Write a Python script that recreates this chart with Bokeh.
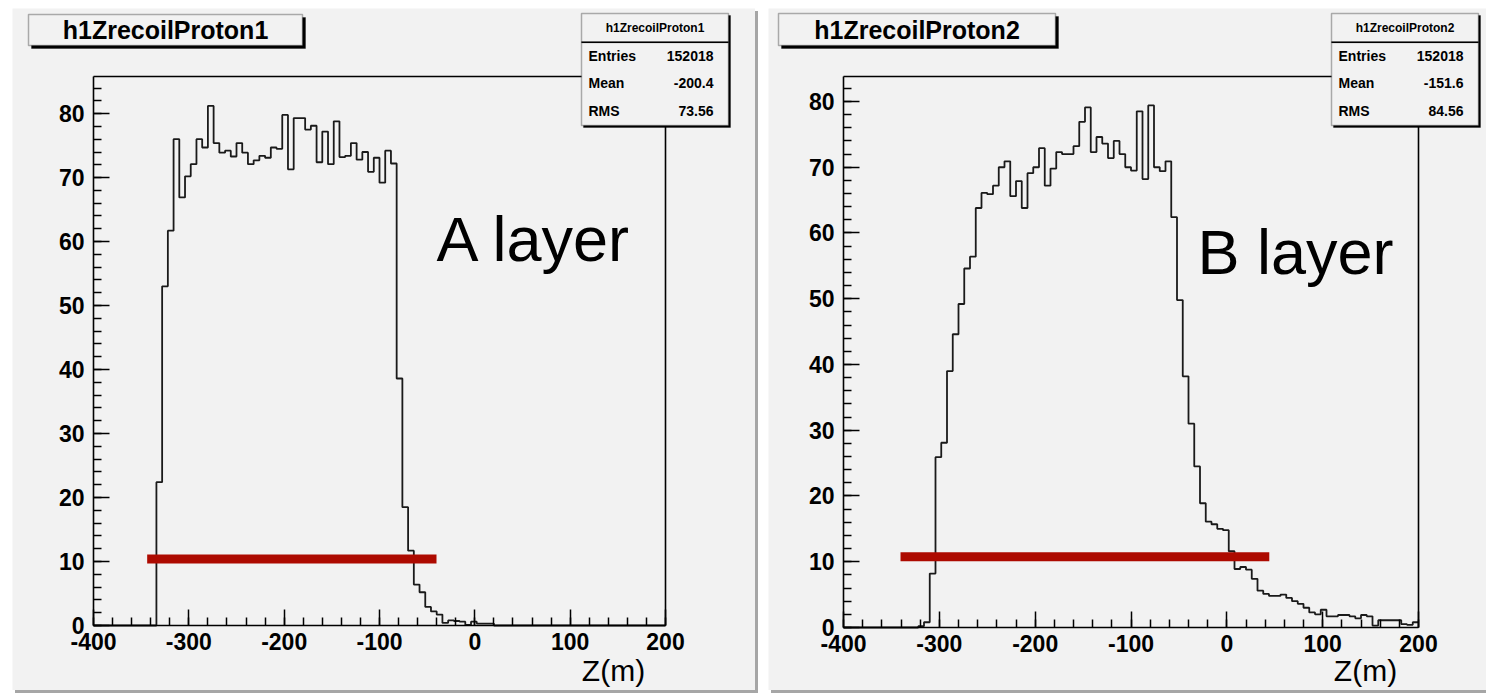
from bokeh.plotting import figure
from bokeh.models import FixedTicker, Label, BoxAnnotation, Range1d, LinearAxis
from bokeh.layouts import row
from bokeh.embed import file_html
from bokeh.resources import INLINE

# ---------------- data ----------------
BIN_WIDTH = 6
X_MIN, X_MAX = -400, 200
x_ticks = [-400, -300, -200, -100, 0, 100, 200]
x_tick_labels = ["-400", "-300", "-200", "-100", "0", "100", "200"]
y_ticks = [0, 10, 20, 30, 40, 50, 60, 70, 80]
x_title = "Z(m)"

left_name = "h1ZrecoilProton1"
left_first_bin = -334
left_counts = [22.4, 53.0, 61.7, 76.0, 66.9, 70.2, 72.1, 76.0, 74.7, 81.2,
               75.4, 73.9, 74.2, 73.3, 75.4, 73.9, 72.1, 72.7, 73.4, 73.1,
               74.7, 74.5, 79.8, 71.3, 79.3, 79.3, 77.5, 78.1, 72.4, 77.2,
               72.1, 78.8, 73.2, 73.4, 75.4, 72.8, 74.0, 70.9, 73.1, 69.2,
               74.2, 72.2, 38.6, 18.5, 11.7, 6.4, 5.2, 2.9, 2.2, 1.7,
               0.4, 0.8, 0.7, 0.6, 0.1, 0.6, 0.3, 0.3, 0.3]
left_ymax = 85.8
left_stat_names = ["Entries", "Mean", "RMS"]
left_stat_values = ["152018", "-200.4", "73.56"]
left_tag = "A layer"
left_red_x = [-343.7, -40.2]
left_red_y = [10.4, 10.4]

right_name = "h1ZrecoilProton2"
right_first_bin = -322
right_counts = [0.2, 0.8, 8.2, 25.9, 28.1, 39.0, 44.6, 49.2, 54.6, 56.4,
                63.8, 66.1, 65.9, 67.2, 70.0, 70.9, 65.6, 67.9, 63.8, 69.1,
                70.0, 72.9, 67.2, 69.8, 72.3, 72.0, 72.0, 73.2, 76.9, 79.1,
                72.3, 74.6, 73.6, 71.4, 74.0, 72.0, 70.0, 69.5, 78.5, 68.2,
                79.4, 70.0, 69.4, 70.9, 62.4, 49.8, 38.2, 31.0, 24.5, 18.9,
                16.1, 15.7, 15.0, 14.8, 11.6, 8.9, 9.2, 8.8, 7.4, 5.6,
                5.1, 4.8, 4.8, 5.0, 4.5, 4.0, 3.6, 3.0, 2.3, 2.0,
                2.7, 1.7, 1.7, 1.9, 1.9, 1.7, 1.4, 1.9, 1.7, 0.3,
                1.1, 1.1, 1.1, 1.1, 0.5, 0.4, 0.8]
right_ymax = 83.8
right_stat_names = ["Entries", "Mean", "RMS"]
right_stat_values = ["152018", "-151.6", "84.56"]
right_tag = "B layer"
right_red_x = [-340.5, 44.3]
right_red_y = [10.75, 10.75]

# ---------------- styling ----------------
BG = "#f2f2f2"
FONT = "Liberation Sans"
RED = "#ad0a00"


def full_hist(first_edge, counts):
    n = (X_MAX - X_MIN) // BIN_WIDTH
    vals = [0.0] * n
    i0 = (first_edge - X_MIN) // BIN_WIDTH
    for i, c in enumerate(counts):
        vals[i0 + i] = c
    edges = [X_MIN + BIN_WIDTH * i for i in range(n + 1)]
    return edges, vals + [vals[-1]]


def make_panel(g, ymax, name, first_edge, counts, stat_names, stat_values, tag, red_x, red_y):
    # g: window-pixel geometry of this panel; the histogram area spans
    # X_MIN..X_MAX and 0..ymax inside the pixel box (fx0, fy0, fw, fh)
    def dx(wx):
        return X_MIN + (wx - g["fx0"]) / g["fw"] * (X_MAX - X_MIN)

    def dy(wy):
        return ymax - (wy - g["fy0"]) / g["fh"] * ymax

    p = figure(width=g["w"], height=g["h"],
               x_range=Range1d(dx(g["px0"]), dx(g["px0"] + g["w"])),
               y_range=Range1d(dy(g["py0"] + g["h"]), dy(g["py0"])),
               output_backend="svg", toolbar_location=None,
               min_border=0)
    p.margin = (g["py0"], 0, 0, g["mleft"])
    p.styles = {"box-shadow": "3px 3px 0px #a6a6a6"}
    p.background_fill_color = BG
    p.border_fill_color = BG
    p.outline_line_color = None
    p.grid.visible = False

    xa = p.xaxis[0]
    xa.fixed_location = 0
    xa.bounds = (X_MIN, X_MAX)
    xa.ticker = FixedTicker(ticks=x_ticks, minor_ticks=list(range(X_MIN, X_MAX + 1, 20)))
    xa.major_label_overrides = {t: l for t, l in zip(x_ticks, x_tick_labels)}
    ya = p.yaxis[0]
    ya.fixed_location = X_MIN
    ya.bounds = (0, ymax)
    ya.ticker = FixedTicker(ticks=y_ticks, minor_ticks=[v for v in range(0, int(ymax) + 1, 2)])
    for ax in (xa, ya):
        ax.major_tick_in = 16
        ax.major_tick_out = 0
        ax.minor_tick_in = 8
        ax.minor_tick_out = 0
        ax.axis_line_color = "black"
        ax.axis_line_width = 1.6
        ax.major_tick_line_width = 1.5
        ax.minor_tick_line_width = 1.5
        ax.major_label_text_font = FONT
        ax.major_label_text_font_style = "bold"
        ax.major_label_text_font_size = "23px"
        ax.major_label_text_color = "black"
    xa.major_label_standoff = 7
    ya.major_label_standoff = 9

    # frame top / right edges
    top = LinearAxis(fixed_location=ymax, bounds=(X_MIN, X_MAX), ticker=FixedTicker(ticks=[]),
                     axis_line_width=1.6, major_tick_in=0, major_tick_out=0,
                     minor_tick_in=0, minor_tick_out=0, major_label_text_font_size="0px")
    right = LinearAxis(fixed_location=X_MAX, bounds=(0, ymax), ticker=FixedTicker(ticks=[]),
                       axis_line_width=1.6, major_tick_in=0, major_tick_out=0,
                       minor_tick_in=0, minor_tick_out=0, major_label_text_font_size="0px")
    p.add_layout(top, "above")
    p.add_layout(right, "right")

    xs, ys = full_hist(first_edge, counts)
    p.step(xs, ys, mode="after", line_color="#1a1a1a", line_width=1.8)
    p.segment(x0=[red_x[0]], y0=[red_y[0]], x1=[red_x[1]], y1=[red_y[1]],
              line_color=RED, line_width=9, line_cap="butt")

    # title box with shadow
    t = g["title_box"]
    p.add_layout(BoxAnnotation(left=dx(t[0] + 3), right=dx(t[1] + 3), top=dy(t[2] + 3), bottom=dy(t[3] + 3),
                               fill_color="black", fill_alpha=1, line_color="black", line_width=1))
    p.add_layout(BoxAnnotation(left=dx(t[0]), right=dx(t[1]), top=dy(t[2]), bottom=dy(t[3]),
                               fill_color=BG, fill_alpha=1, line_color="black", line_width=1.5))
    p.add_layout(Label(x=dx((t[0] + t[1]) / 2), y=dy((t[2] + t[3]) / 2), text=name,
                       text_font=FONT, text_font_style="bold", text_font_size="25px",
                       text_align="center", text_baseline="middle", text_color="black"))

    # stats box
    s = g["stats_box"]
    p.add_layout(BoxAnnotation(left=dx(s[0] + 2), right=dx(s[1] + 2), top=dy(s[2] + 2), bottom=dy(s[3] + 2),
                               fill_color="black", fill_alpha=1, line_color="black", line_width=1))
    p.add_layout(BoxAnnotation(left=dx(s[0]), right=dx(s[1]), top=dy(s[2]), bottom=dy(s[3]),
                               fill_color=BG, fill_alpha=1, line_color="black", line_width=1.5))
    p.add_layout(BoxAnnotation(left=dx(s[0]), right=dx(s[1]), top=dy(s[4]), bottom=dy(s[4] + 1.5),
                               fill_color="black", fill_alpha=1, line_color="black", line_width=0.5))
    p.add_layout(Label(x=dx((s[0] + s[1]) / 2), y=dy((s[2] + s[4]) / 2), text=name,
                       text_font=FONT, text_font_style="bold", text_font_size="12px",
                       text_align="center", text_baseline="middle", text_color="black"))
    for i, (nm, vl) in enumerate(zip(stat_names, stat_values)):
        wy = g["stat_rows"][i]
        p.add_layout(Label(x=dx(s[0] + 7), y=dy(wy), text=nm,
                           text_font=FONT, text_font_style="bold", text_font_size="14px",
                           text_align="left", text_baseline="middle", text_color="black"))
        p.add_layout(Label(x=dx(s[1] - 15), y=dy(wy), text=vl,
                           text_font=FONT, text_font_style="bold", text_font_size="14px",
                           text_align="right", text_baseline="middle", text_color="black"))

    # axis title (ROOT style: right aligned under the axis)
    p.add_layout(Label(x=dx(g["xt"][0]), y=dy(g["xt"][1]), text=x_title,
                       text_font=FONT, text_font_size="30px",
                       text_align="center", text_baseline="middle", text_color="black"))
    # layer tag
    p.add_layout(Label(x=dx(g["tag"][0]), y=dy(g["tag"][1]), text=tag,
                       text_font=FONT, text_font_size="63px",
                       text_align="left", text_baseline="middle", text_color="black"))
    return p


geo_left = dict(px0=12, py0=8, w=743, h=682, mleft=12,
                fx0=93, fw=572, fy0=76, fh=549,
                title_box=(28, 302, 14, 45), stats_box=(581, 728, 13, 125, 41),
                stat_rows=(55, 82, 110), xt=(613, 670), tag=(436, 238))
geo_right = dict(px0=768, py0=8, w=718, h=682, mleft=13,
                 fx0=843, fw=575, fy0=76, fh=551,
                 title_box=(778, 1055, 13, 45), stats_box=(1331, 1478, 13, 125, 41),
                 stat_rows=(55, 82, 110), xt=(1365, 670), tag=(1197, 251))

p1 = make_panel(geo_left, left_ymax, left_name, left_first_bin, left_counts,
                left_stat_names, left_stat_values, left_tag, left_red_x, left_red_y)
p2 = make_panel(geo_right, right_ymax, right_name, right_first_bin, right_counts,
                right_stat_names, right_stat_values, right_tag, right_red_x, right_red_y)

layout = row(p1, p2)
open("out.html", "w").write(file_html(layout, INLINE))
